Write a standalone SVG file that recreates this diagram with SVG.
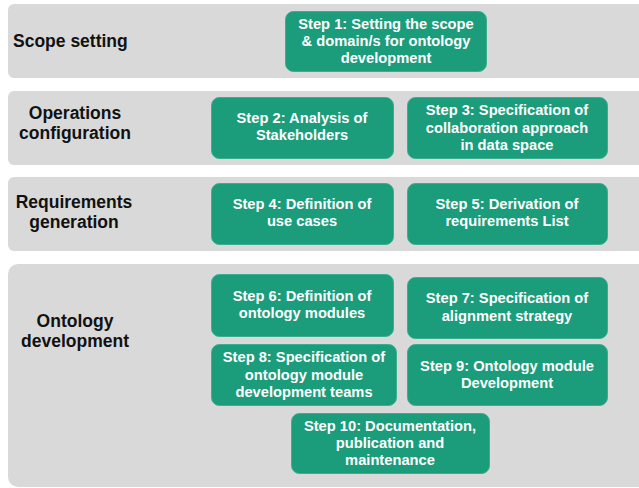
<svg xmlns="http://www.w3.org/2000/svg" width="639" height="488" viewBox="0 0 639 488">
<style>
.band{fill:#d9d9d9}
.box{fill:#1b9c7b;stroke:#3aae90;stroke-width:1}
.lbl{font-family:"Liberation Sans",Arial,sans-serif;font-weight:bold;font-size:17.5px;fill:#111;text-anchor:middle}
.st{font-family:"Liberation Sans",Arial,sans-serif;font-weight:bold;font-size:14.7px;fill:#fff;text-anchor:middle}
</style>
<rect width="639" height="488" fill="#fff"/>
<g id="band1"><rect class="band" x="8" y="4" width="640" height="74" rx="6"/><text class="lbl" x="13" y="47" style="text-anchor:start">Scope setting</text></g>
<g id="band2"><rect class="band" x="8" y="91" width="640" height="74" rx="6"/><text class="lbl" x="75" y="119">Operations</text><text class="lbl" x="75" y="139">configuration</text></g>
<g id="band3"><rect class="band" x="8" y="177" width="640" height="74" rx="6"/><text class="lbl" x="74" y="208">Requirements</text><text class="lbl" x="74" y="228">generation</text></g>
<g id="band4"><rect class="band" x="8" y="264" width="640" height="223" rx="10"/><text class="lbl" x="75" y="327">Ontology</text><text class="lbl" x="75" y="347">development</text></g>
<g id="step1"><rect class="box" x="285.5" y="11.5" width="201" height="60" rx="8"/><text class="st" x="386" y="29">Step 1: Setting the scope</text><text class="st" x="386" y="46">&amp; domain/s for ontology</text><text class="st" x="386" y="63">development</text></g>
<g id="step2"><rect class="box" x="211.5" y="97.5" width="182" height="61" rx="8"/><text class="st" x="302" y="123">Step 2: Analysis of</text><text class="st" x="302" y="140">Stakeholders</text></g>
<g id="step3"><rect class="box" x="407.5" y="97.5" width="200" height="61" rx="8"/><text class="st" x="507" y="115">Step 3: Specification of</text><text class="st" x="507" y="133">collaboration approach</text><text class="st" x="507" y="150">in data space</text></g>
<g id="step4"><rect class="box" x="211.5" y="183.5" width="182" height="61" rx="8"/><text class="st" x="302" y="209">Step 4: Definition of</text><text class="st" x="302" y="226">use cases</text></g>
<g id="step5"><rect class="box" x="407.5" y="183.5" width="200" height="61" rx="8"/><text class="st" x="507" y="209">Step 5: Derivation of</text><text class="st" x="507" y="226">requirements List</text></g>
<g id="step6"><rect class="box" x="211.5" y="274.5" width="182" height="62" rx="8"/><text class="st" x="302" y="301">Step 6: Definition of</text><text class="st" x="302" y="318">ontology modules</text></g>
<g id="step7"><rect class="box" x="407.5" y="277.5" width="200" height="61" rx="8"/><text class="st" x="507" y="303">Step 7: Specification of</text><text class="st" x="507" y="321">alignment strategy</text></g>
<g id="step8"><rect class="box" x="211.5" y="344.5" width="185" height="61" rx="8"/><text class="st" x="304" y="362">Step 8: Specification of</text><text class="st" x="304" y="380">ontology module</text><text class="st" x="304" y="397">development teams</text></g>
<g id="step9"><rect class="box" x="407.5" y="344.5" width="200" height="61" rx="8"/><text class="st" x="507" y="371">Step 9: Ontology module</text><text class="st" x="507" y="388">Development</text></g>
<g id="step10"><rect class="box" x="291.5" y="413.5" width="198" height="60" rx="8"/><text class="st" x="390" y="431">Step 10: Documentation,</text><text class="st" x="390" y="448">publication and</text><text class="st" x="390" y="465">maintenance</text></g>
<g id="connectors"></g>
</svg>
